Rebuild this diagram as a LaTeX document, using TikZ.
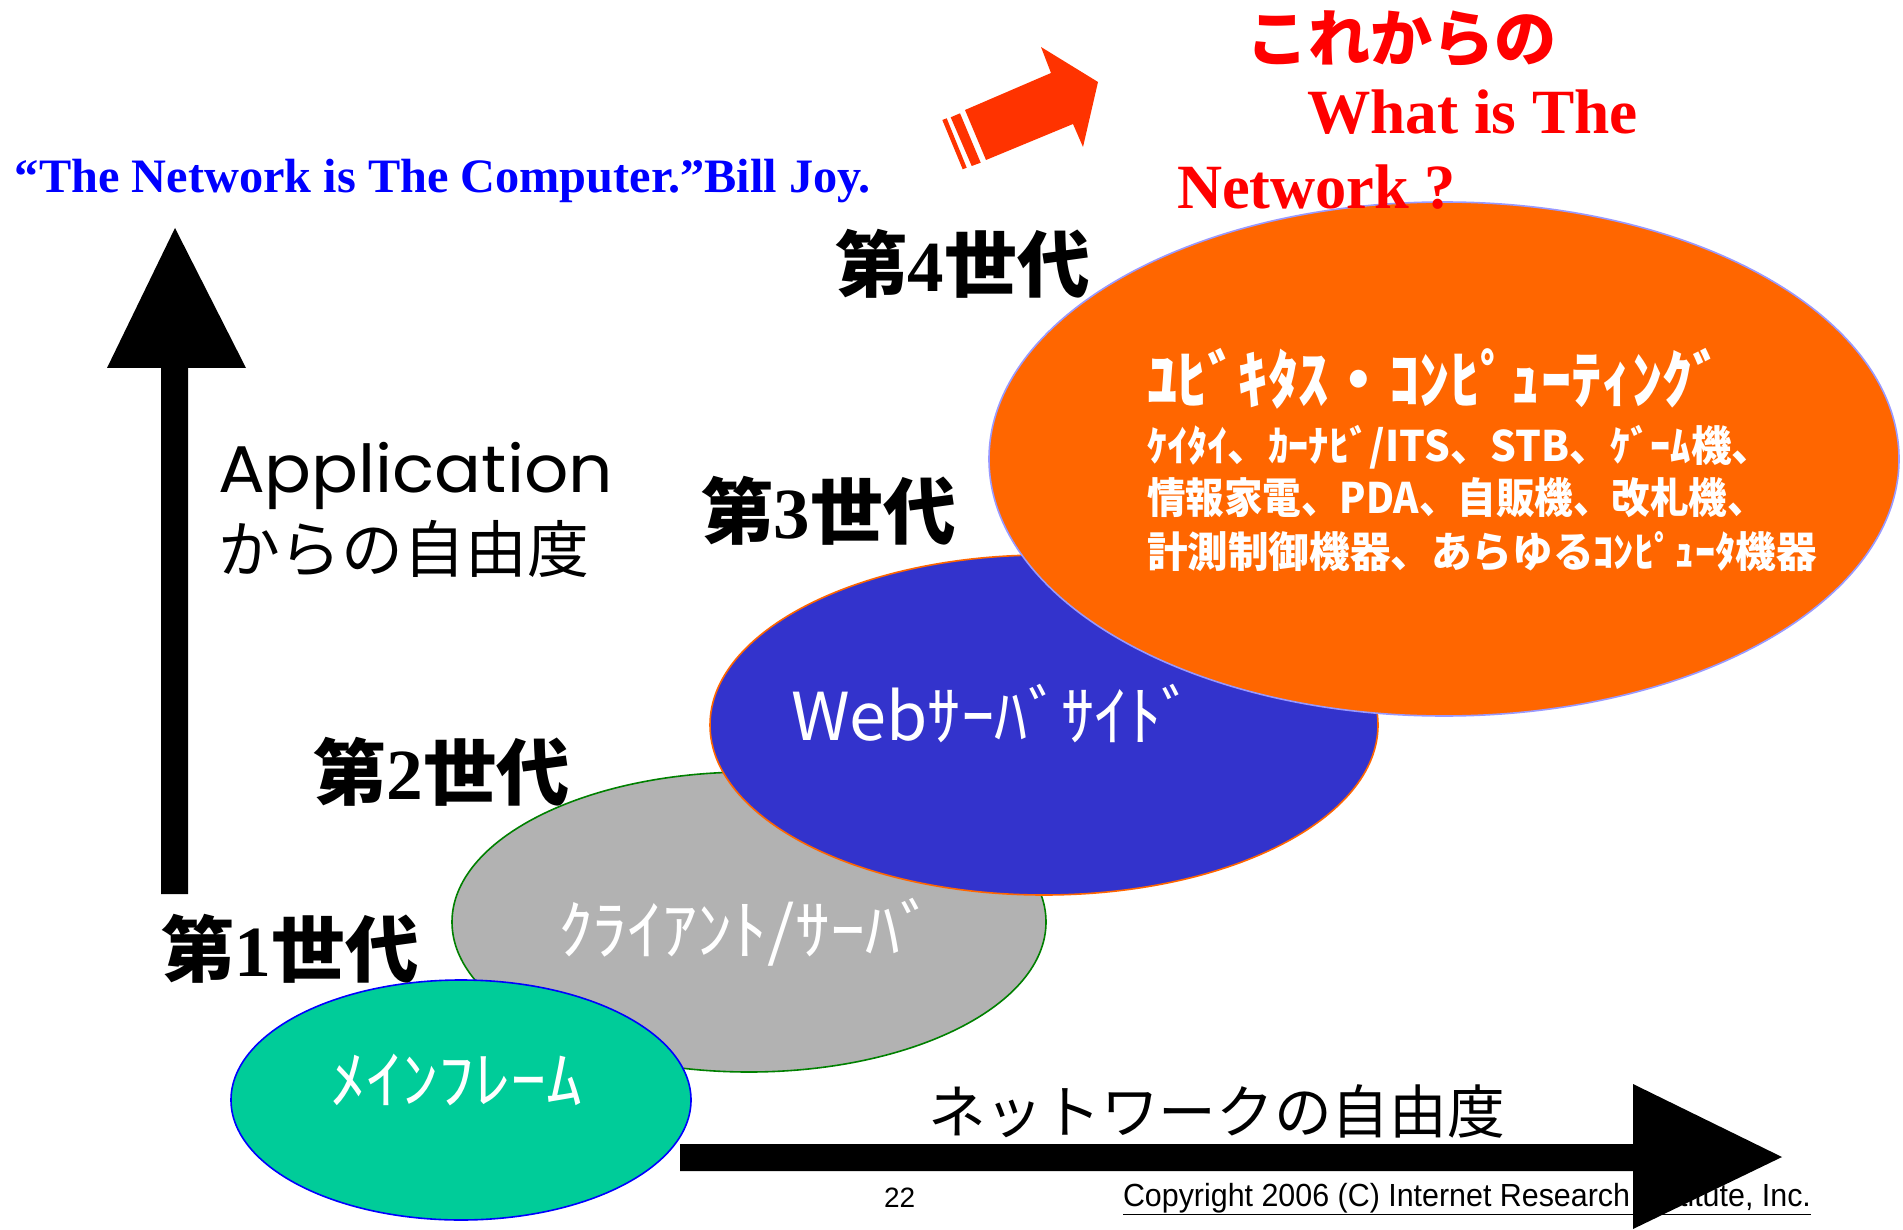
\documentclass[tikz,border=0pt]{standalone}
\usepackage{fontspec}
\usepackage{graphicx}
\usetikzlibrary{shapes.geometric}
\setmainfont{Liberation Serif}
\newfontfamily\jp{Noto Sans CJK JP}
\newfontfamily\tms{Liberation Serif}
\newfontfamily\ars{Liberation Sans}
\newfontfamily\geo{Poppins}
\newsavebox\fitbox
\newcommand\fitw[2]{\sbox\fitbox{#2}\pgfmathsetmacro\fitr{#1/\wd\fitbox}\scalebox{\fitr}[1]{\usebox\fitbox}}
\newcommand\fs[1]{\fontsize{#1}{#1}\selectfont}
\definecolor{mgreen}{HTML}{00CC99}
\definecolor{mgray}{HTML}{B2B2B2}
\definecolor{mblue}{HTML}{3333CC}
\definecolor{morange}{HTML}{FF6600}
\definecolor{lav}{HTML}{9999FF}
\definecolor{arrowred}{HTML}{FF3300}
\definecolor{dgreen}{HTML}{008000}
\tikzset{
  txt/.style={inner sep=0pt, outer sep=0pt},
  blob/.style={ellipse, inner sep=0pt, outer sep=0pt, line width=1.6pt},
}
\begin{document}
\begin{tikzpicture}[x=1pt,y=-1pt]
\useasboundingbox[fill=white] (0,0) rectangle (1903,1230);

% footer text (under the arrow head)
\node[txt, anchor=west] (pg) at (884,1198) {\fs{28}\ars 22};
\node[txt, anchor=west] (copy) at (1123,1199) {\fitw{688}{\fs{32}\ars\underline{Copyright 2006 (C) Internet Research Institute, Inc.}}};

% vertical arrow
\fill[black] (161,894) -- (188,894) -- (188,368) -- (246,368) -- (175,228) -- (107,368) -- (161,368) -- cycle;
% horizontal arrow
\fill[black] (680,1144) -- (1633,1144) -- (1633,1084) -- (1782,1157) -- (1633,1229) -- (1633,1171) -- (680,1171) -- cycle;

% ellipses
\node[blob, draw=dgreen, fill=mgray, minimum width=594pt, minimum height=300pt] (e2) at (749,922) {};
\node[blob, draw=blue, fill=mgreen, minimum width=460pt, minimum height=240pt] (e1) at (461,1100) {};
\node[blob, draw=morange, fill=mblue, minimum width=668pt, minimum height=340pt] (e3) at (1044,725) {};
\node[blob, draw=lav, fill=morange, minimum width=910pt, minimum height=514pt] (e4) at (1444,459) {};

% orange arrow
\fill[arrowred] (1098,82) -- (1041,47) -- (1051,73) -- (965,110) -- (986,160) -- (1073,124) -- (1083,147) -- cycle;
\fill[arrowred] (950.7,117.3) -- (960,113.3) -- (980.7,162.7) -- (971.7,166) -- cycle;
\fill[arrowred] (942.3,120) -- (946.7,118.3) -- (966.7,167.7) -- (962.7,169.3) -- cycle;

% titles
\node[txt, anchor=base west, text=blue] (quote) at (15,193) {\fitw{856}{\fs{48}\tms\bfseries “The Network is The Computer.”Bill Joy.}};
\node[txt, anchor=west, text=red] (fut) at (1246,39) {\fitw{311}{\fs{62}\jp\bfseries これからの}};
\node[txt, anchor=base west, text=red] (what) at (1307,134) {\fitw{331}{\fs{63}\tms\bfseries What is The}};
\node[txt, anchor=base west, text=red] (netq) at (1177,209) {\fitw{279}{\fs{63}\tms\bfseries Network ?}};

% generations
\node[txt, anchor=west] (g4) at (835,264) {\fitw{255}{\fs{72}\jp\bfseries 第{\tms\bfseries 4}世代}};
\node[txt, anchor=west] (g3) at (701,511) {\fitw{255}{\fs{72}\jp\bfseries 第{\tms\bfseries 3}世代}};
\node[txt, anchor=west] (g2) at (313,772) {\fitw{257}{\fs{72}\jp\bfseries 第{\tms\bfseries 2}世代}};
\node[txt, anchor=west] (g1) at (161,949) {\fitw{258}{\fs{72}\jp\bfseries 第{\tms\bfseries 1}世代}};

% axis labels
\node[txt, anchor=base west] (app) at (218,492) {\fitw{395}{\fs{66}\geo Application}};
\node[txt, anchor=west] (appjp) at (218,549) {\fitw{371}{\fs{62}\jp からの自由度}};
\node[txt, anchor=west] (netfree) at (928,1111) {\fitw{577}{\fs{58}\jp ネットワークの自由度}};

% ellipse labels
\node[txt, anchor=west, text=white] (t1) at (330,1080) {\fitw{253}{\fs{64}\jp ﾒｲﾝﾌﾚｰﾑ}};
\node[txt, anchor=west, text=white] (t2) at (558,932) {\fitw{377}{\fs{66}\jp ｸﾗｲｱﾝﾄ/ｻｰﾊﾞ}};
\node[txt, anchor=west, text=white] (t3) at (791,714) {\fitw{404}{\fs{66}\jp Webｻｰﾊﾞｻｲﾄﾞ}};
\node[txt, anchor=west, text=white] (u1) at (1147,379) {\fitw{576}{\fs{64}\jp\bfseries ﾕﾋﾞｷﾀｽ・ｺﾝﾋﾟｭｰﾃｨﾝｸﾞ}};
\node[txt, anchor=west, text=white] (u2) at (1147,447) {\fitw{625}{\fs{42}\jp\bfseries ｹｲﾀｲ、ｶｰﾅﾋﾞ/ITS、STB、ｹﾞｰﾑ機、}};
\node[txt, anchor=west, text=white] (u3) at (1147,498) {\fitw{619}{\fs{42}\jp\bfseries 情報家電、PDA、自販機、改札機、}};
\node[txt, anchor=west, text=white] (u4) at (1147,552) {\fitw{670}{\fs{42}\jp\bfseries 計測制御機器、あらゆるｺﾝﾋﾟｭｰﾀ機器}};
\end{tikzpicture}
\end{document}
